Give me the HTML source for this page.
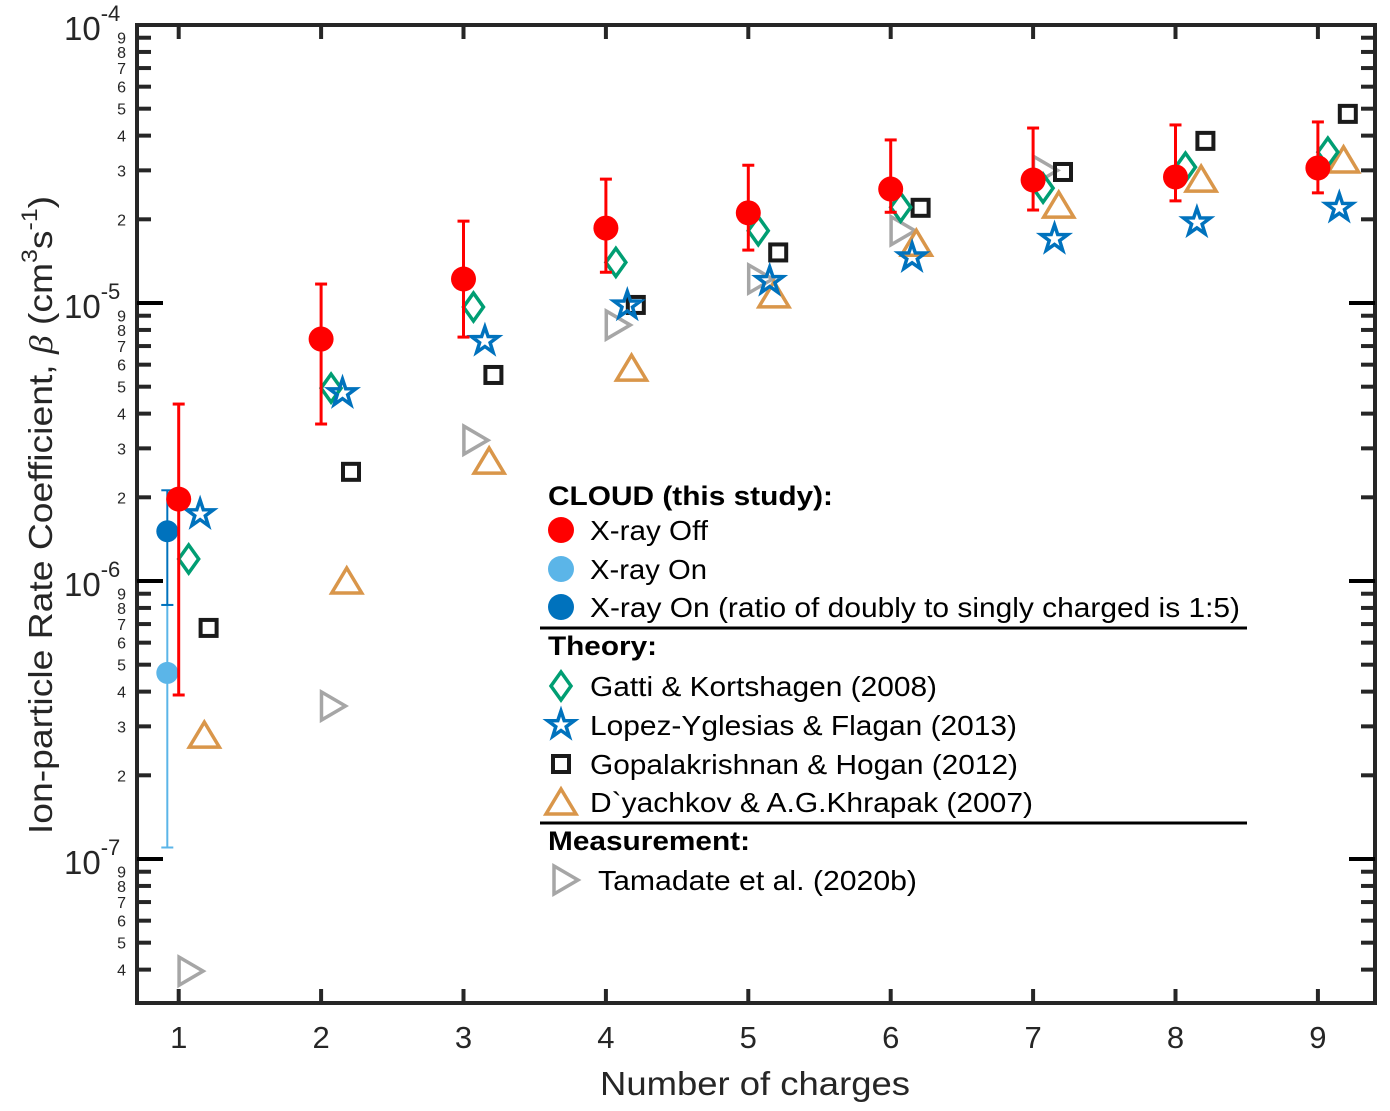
<!DOCTYPE html>
<html><head><meta charset="utf-8"><style>
body{margin:0;background:#fff;}
svg{display:block;font-family:"Liberation Sans",sans-serif;}
</style></head><body>
<svg id="chart" width="1390" height="1111" viewBox="0 0 1390 1111" xmlns="http://www.w3.org/2000/svg">
<g id="axes"></g>
<g id="marks"></g>
<g id="legend"></g>
</svg>
<script>
const charges = [1,2,3,4,5,6,7,8,9];
const xrayOff = [1.97e-6,7.42e-6,1.22e-5,1.86e-5,2.11e-5,2.57e-5,2.77e-5,2.84e-5,3.06e-5];
const xrayOffHigh = [4.33e-6,1.17e-5,1.97e-5,2.79e-5,3.13e-5,3.86e-5,4.26e-5,4.37e-5,4.48e-5];
const xrayOffLow = [3.89e-7,3.67e-6,7.54e-6,1.29e-5,1.55e-5,2.12e-5,2.16e-5,2.33e-5,2.49e-5];
const xrayOn = [4.67e-7]; const xrayOnHigh=[8.2e-7]; const xrayOnLow=[1.1e-7];
const xrayOnRatio = [1.51e-6]; const xrayOnRatioHigh=[2.12e-6]; const xrayOnRatioLow=[8.2e-7];
const gatti = [1.2e-6,4.94e-6,9.67e-6,1.4e-5,1.82e-5,2.21e-5,2.59e-5,3.08e-5,3.49e-5];
const lopez = [1.74e-6,4.74e-6,7.3e-6,9.8e-6,1.2e-5,1.46e-5,1.7e-5,1.95e-5,2.2e-5];
const gopal = [6.78e-7,2.47e-6,5.51e-6,9.84e-6,1.52e-5,2.2e-5,2.96e-5,3.83e-5,4.79e-5];
const dyach = [2.79e-7,1e-6,2.7e-6,5.83e-6,1.07e-5,1.64e-5,2.25e-5,2.79e-5,3.27e-5];
const tamadate = [3.95e-8,3.55e-7,3.21e-6,8.33e-6,1.22e-5,1.82e-5,3.0e-5];
const xTicks = [1,2,3,4,5,6,7,8,9];
const decades = [-7,-6,-5,-4];

const NS="http://www.w3.org/2000/svg";
const L=137,R=1375,T=25,B=1003;
const X=v=>178.7+(v-1)*142.4;
const Y=v=>303-(Math.log10(v)+5)*278;
function mk(tag,at,parent){const e=document.createElementNS(NS,tag);for(const k in at)e.setAttribute(k,at[k]);parent.appendChild(e);return e;}
const ax=document.getElementById('axes'),mg=document.getElementById('marks'),lg=document.getElementById('legend');

let fr=mk('rect',{x:L,y:T,width:R-L,height:B-T,fill:'none',stroke:'#262626','stroke-width':4},ax);

xTicks.forEach(t=>{
  mk('line',{x1:X(t),x2:X(t),y1:B,y2:B-14,stroke:'#262626','stroke-width':4},ax);
  mk('line',{x1:X(t),x2:X(t),y1:T,y2:T+14,stroke:'#262626','stroke-width':4},ax);
  let tx=mk('text',{x:X(t),y:1048,'font-size':31,'text-anchor':'middle',fill:'#262626'},ax);
  tx.textContent=t;
  
  
});
for(let d=-8;d<=-5;d++){
  for(let m=1;m<=9;m++){
    const v=m*Math.pow(10,d);const y=Y(v);
    if(y<T-1||y>B+1)continue;
    if(m===1){
      mk('line',{x1:L,x2:L+26,y1:y,y2:y,stroke:'#000','stroke-width':4},ax);
      mk('line',{x1:R,x2:R-26,y1:y,y2:y,stroke:'#000','stroke-width':4},ax);
    }else{
      mk('line',{x1:L,x2:L+14,y1:y,y2:y,stroke:'#262626','stroke-width':4},ax);
      mk('line',{x1:R,x2:R-14,y1:y,y2:y,stroke:'#262626','stroke-width':4},ax);
      let tx=mk('text',{x:126,y:y+6,'font-size':16,'text-anchor':'end',fill:'#262626'},ax);
      tx.textContent=m;
      
      
    }
  }
}
decades.forEach(d=>{
  const y=Y(Math.pow(10,d));
  let tx=mk('text',{x:64,y:y+15,'font-size':33,fill:'#262626'},ax);
  tx.innerHTML='10<tspan font-size="22" dy="-19">'+d+'</tspan>';
  
  
});
let xl=mk('text',{x:600,y:1095,'font-size':33,fill:'#262626',textLength:310,lengthAdjust:'spacingAndGlyphs'},ax);
xl.textContent='Number of charges';

let yl=mk('text',{x:0,y:0,'font-size':33,'text-anchor':'middle',fill:'#262626',transform:'translate(52,515) rotate(-90)'},ax);
yl.innerHTML='Ion-particle Rate Coefficient, <tspan font-family="Liberation Serif" font-style="italic">β</tspan> (cm<tspan font-size="22" dy="-15">3</tspan><tspan dy="15">s</tspan><tspan font-size="22" dy="-15">-1</tspan><tspan dy="15">)</tspan>';

yl.setAttribute('transform','translate(52,515) rotate(-90) scale(1.13,1)');

function diamond(g,x,y){return mk('polygon',{points:`${x},${y-14} ${x+10},${y} ${x},${y+14} ${x-10},${y}`,fill:'none',stroke:'#009E73','stroke-width':3.5},g);}
function star(g,x,y){let p=[];for(let i=0;i<10;i++){const r=i%2?5.5:14;const a=-Math.PI/2+i*Math.PI/5;p.push((x+r*Math.cos(a)).toFixed(1)+','+(y+r*Math.sin(a)).toFixed(1));}return mk('polygon',{points:p.join(' '),fill:'none',stroke:'#0072BD','stroke-width':3.5},g);}
function square(g,x,y){return mk('rect',{x:x-8,y:y-8,width:16,height:16,fill:'none',stroke:'#1a1a1a','stroke-width':4},g);}
function tri(g,x,y){return mk('polygon',{points:`${x},${y-13} ${x+15},${y+12} ${x-15},${y+12}`,fill:'none',stroke:'#D9964A','stroke-width':3.5},g);}
function rtri(g,x,y){return mk('polygon',{points:`${x-11},${y-14} ${x+13},${y} ${x-11},${y+14}`,fill:'none',stroke:'#A6A6A6','stroke-width':3.5},g);}
function errbar(g,x,lo,hi,col,w){mk('line',{x1:x,x2:x,y1:Y(lo),y2:Y(hi),stroke:col,'stroke-width':w},g);mk('line',{x1:x-6,x2:x+6,y1:Y(lo),y2:Y(lo),stroke:col,'stroke-width':w},g);mk('line',{x1:x-6,x2:x+6,y1:Y(hi),y2:Y(hi),stroke:col,'stroke-width':w},g);}

tamadate.forEach((v,i)=>{let e=rtri(mg,X(charges[i]+0.08),Y(v));});
dyach.forEach((v,i)=>{let e=tri(mg,X(charges[i]+0.18),Y(v));});
gopal.forEach((v,i)=>{let e=square(mg,X(charges[i]+0.21),Y(v));});
gatti.forEach((v,i)=>{let e=diamond(mg,X(charges[i]+0.07),Y(v));});
lopez.forEach((v,i)=>{let e=star(mg,X(charges[i]+0.15),Y(v));});
errbar(mg,X(0.92),xrayOnLow[0],xrayOnHigh[0],'#5BB5E8',2);
errbar(mg,X(0.92),xrayOnRatioLow[0],xrayOnRatioHigh[0],'#0072BD',2);
let c1=mk('circle',{cx:X(0.92),cy:Y(xrayOn[0]),r:11,fill:'#5BB5E8'},mg);

let c2=mk('circle',{cx:X(0.92),cy:Y(xrayOnRatio[0]),r:11,fill:'#0072BD'},mg);

xrayOff.forEach((v,i)=>{
  errbar(mg,X(charges[i]),xrayOffLow[i],xrayOffHigh[i],'#FF0000',3);
  let c=mk('circle',{cx:X(charges[i]),cy:Y(v),r:12.5,fill:'#FF0000'},mg);
  
  
});

function ltext(txt,y,bold,x,w){let t=mk('text',{x:x||590,y:y,'font-size':bold?27:28,'font-weight':bold?'bold':'normal',fill:'#000',textLength:w,lengthAdjust:'spacingAndGlyphs'},lg);t.textContent=txt;return t;}
let h1=ltext('CLOUD (this study):',505,true,548,285);
const rows=[['X-ray Off',530,'c','#FF0000',118],['X-ray On',569,'c','#5BB5E8',117],['X-ray On (ratio of doubly to singly charged is 1:5)',607,'c','#0072BD',650],
['Gatti & Kortshagen (2008)',686,'d','',347],['Lopez-Yglesias & Flagan (2013)',725,'s','',427],['Gopalakrishnan & Hogan (2012)',764,'q','',428],['D`yachkov & A.G.Khrapak (2007)',802,'t','',443],['Tamadate et al. (2020b)',880,'r','',319]];
rows.forEach(r=>{
  let t=ltext(r[0],r[1]+10,false,r[2]==='r'?598:590,r[4]);
  
  
  const x=561,y=r[1];
  if(r[2]==='c')mk('circle',{cx:x,cy:y,r:13,fill:r[3]},lg);
  if(r[2]==='d')diamond(lg,x,y);
  if(r[2]==='s')star(lg,x,y);
  if(r[2]==='q')square(lg,x,y);
  if(r[2]==='t')tri(lg,x,y);
  if(r[2]==='r')rtri(lg,x+4,y);
});
mk('line',{x1:540,x2:1247,y1:628,y2:628,stroke:'#000','stroke-width':3},lg);
let h2=ltext('Theory:',655,true,548,109);
mk('line',{x1:540,x2:1247,y1:823,y2:823,stroke:'#000','stroke-width':3},lg);
let h3=ltext('Measurement:',850,true,548,202);
</script>
</body></html>
